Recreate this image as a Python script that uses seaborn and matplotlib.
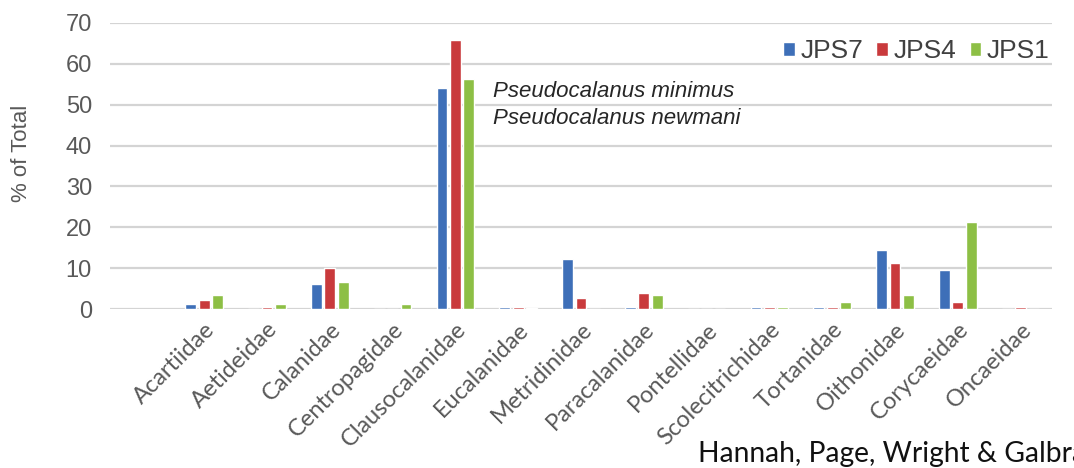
import matplotlib
matplotlib.use("Agg")
import matplotlib.pyplot as plt
import seaborn as sns
import pandas as pd

families = ["Acartiidae", "Aetideidae", "Calanidae", "Centropagidae", "Clausocalanidae",
            "Eucalanidae", "Metridinidae", "Paracalanidae", "Pontellidae", "Scolecitrichidae",
            "Tortanidae", "Oithonidae", "Corycaeidae", "Oncaeidae"]
stations = ["JPS7", "JPS4", "JPS1"]
jps7 = [1.2, 0.0, 6.2, 0.0, 54.0, 0.5, 12.2, 0.5, 0.0, 0.5, 0.5, 14.5, 9.5, 0.0]
jps4 = [2.2, 0.5, 10.0, 0.0, 65.8, 0.5, 2.8, 3.9, 0.0, 0.5, 0.5, 11.3, 1.8, 0.4]
jps1 = [3.4, 1.2, 6.7, 1.2, 56.3, 0.3, 0.0, 3.4, 0.0, 0.4, 1.7, 3.4, 21.3, 0.0]
colors = ["#3e6fb8", "#c93a3c", "#8dbf45"]
yticks = [0, 10, 20, 30, 40, 50, 60, 70]
species_note = ["Pseudocalanus minimus", "Pseudocalanus newmani"]
credit = "Hannah, Page, Wright & Galbraith"

df = pd.DataFrame({
    "family": families * 3,
    "station": sum([[s] * len(families) for s in stations], []),
    "pct": jps7 + jps4 + jps1,
})

sns.set_theme(style="white")
plt.rcParams["font.family"] = ["Liberation Sans", "DejaVu Sans"]

fig = plt.figure(figsize=(10.74, 4.68), dpi=100)
ax = fig.add_axes([110 / 1074, 1 - 309 / 468, 942 / 1074, 286 / 468])

sns.barplot(data=df, x="family", y="pct", hue="station", order=families,
            hue_order=stations, palette=colors, width=0.64, gap=0.18,
            saturation=1, ax=ax, legend=True)

ax.set_xlim(-1.5, len(families) - 0.5)
ax.set_ylim(0, 70)
ax.set_yticks(yticks)
ax.set_yticklabels([str(t) for t in yticks], fontsize=17, color="#595959")
ax.yaxis.grid(True, color="#d4d4d4", linewidth=1.6)
ax.set_axisbelow(True)
for sp in ax.spines.values():
    sp.set_visible(False)
ax.tick_params(axis="both", length=0)
ax.tick_params(axis="y", pad=13)

ax.set_xlabel("")
ax.set_ylabel("% of Total", fontsize=16, color="#595959")
ax.yaxis.set_label_coords(-0.083, 0.545)
ax.set_xticks(range(len(families)))
ax.set_xticklabels(families, rotation=45, ha="right", rotation_mode="anchor",
                   fontsize=17, color="#595959", family=["Lato", "DejaVu Sans"])
ax.tick_params(axis="x", pad=7)

leg = ax.legend(loc="upper right", bbox_to_anchor=(1.0085, 0.98), ncol=3, frameon=False,
                fontsize=19, handlelength=0.45, handleheight=0.45, handletextpad=0.2,
                columnspacing=0.5, borderaxespad=0.0)
for t in leg.get_texts():
    t.set_color("#404040")

ax.text(4.6, 53.2, species_note[0], fontsize=16, style="italic", color="#262626",
        va="center", ha="left")
ax.text(4.6, 46.6, species_note[1], fontsize=16, style="italic", color="#262626",
        va="center", ha="left")

fig.text(698 / 1074, 1 - 462 / 468, credit, fontsize=20.3, color="#111111",
         family=["Lato", "DejaVu Sans"], ha="left", va="baseline")

fig.savefig("out.png", dpi=100)
